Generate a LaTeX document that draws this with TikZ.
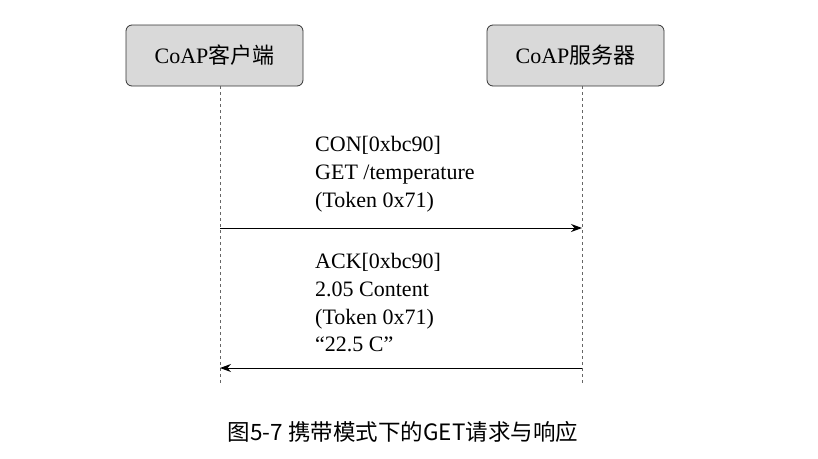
\documentclass[tikz,border=0pt]{standalone}
\usepackage{fontspec}
\setmainfont{Liberation Serif}
\newfontfamily\cjk{Noto Sans CJK SC}
\newfontfamily\cjkm{Noto Sans CJK SC Medium}
\usetikzlibrary{arrows.meta}
\begin{document}
\begin{tikzpicture}[x=1pt,y=-1pt,
  actor/.style={draw=black!80,fill=black!15,rounded corners=6pt,minimum width=177pt,minimum height=61pt,font=\fontsize{22}{24}\selectfont,line width=0.8pt},
  life/.style={dashed,black!60,line width=0.6pt},
  msg/.style={-{Stealth[length=11pt,width=8pt]},line width=0.9pt},
  lbl/.style={anchor=north west,align=left,font=\fontsize{22}{27.8}\selectfont,inner sep=0pt}]
\useasboundingbox (0,0) rectangle (818,458);
\node[actor] (c) at (214.5,55.5) {CoAP{\cjk 客户端}};
\node[actor] (s) at (575.5,55.5) {CoAP{\cjk 服务器}};
\coordinate (ce) at (220,385);
\coordinate (se) at (582,385);
\draw[life] (c.south -| ce) -- (ce);
\draw[life] (s.south -| se) -- (se);
\coordinate (a1) at (220,228); \coordinate (b1) at (582,228);
\coordinate (a2) at (582,368); \coordinate (b2) at (220,368);
\draw[msg] (a1) -- (b1);
\draw[msg] (a2) -- (b2);
\node[lbl] (t1) at (315,136) {CON[0xbc90]\\GET /temperature\\(Token 0x71)};
\node[lbl] (t2) at (315,253) {ACK[0xbc90]\\2.05 Content\\(Token 0x71)\\“22.5 C”};
\node[font=\cjk\fontsize{22.5}{24}\selectfont] (cap) at (403,432) {图5-7 携带模式下的GET请求与响应};
\end{tikzpicture}
\end{document}
